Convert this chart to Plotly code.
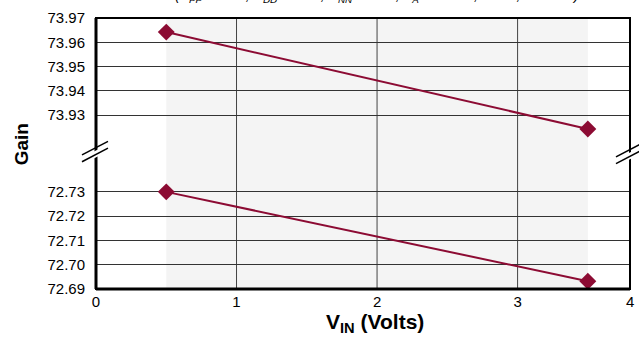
import plotly.graph_objects as go

# ---- data ----
vin = [0.5, 3.5]
gain_high = [73.9642, 73.9243]
gain_low = [72.7300, 72.6932]
shade_range = [0.5, 3.5]
x_ticks = [0, 1, 2, 3]
x_labels = ["0", "1", "2", "3", "4"]
y_top_ticks = [73.93, 73.94, 73.95, 73.96, 73.97]
y_bot_ticks = [72.69, 72.70, 72.71, 72.72, 72.73]
x_max = 3.8

W, H = 639, 339
L, R, T, B = 96, 9, 10, 50
PW, PH = W - L - R, H - T - B

def px(x):
    return (x - L) / PW

def py(y):
    return (H - B - y) / PH

BRK = 150
PX_PER_UNIT = 2500.0  # vertical scale of both segments
top_dom = [py(BRK), 1.0]
bot_dom = [0.0, py(BRK)]
top_range = [y_top_ticks[-1] - (BRK - T) / PX_PER_UNIT, y_top_ticks[-1]]
bot_range = [y_bot_ticks[0], y_bot_ticks[0] + (H - B - BRK) / PX_PER_UNIT]

LINE = "#8c0b33"
FONT = "Liberation Sans, Arial, sans-serif"

fig = go.Figure()
fig.add_trace(go.Scatter(x=vin, y=gain_high, mode="lines+markers", yaxis="y",
                         line=dict(color=LINE, width=2),
                         marker=dict(symbol="diamond", size=13, color=LINE),
                         showlegend=False, cliponaxis=False))
fig.add_trace(go.Scatter(x=vin, y=gain_low, mode="lines+markers", yaxis="y2",
                         line=dict(color=LINE, width=2),
                         marker=dict(symbol="diamond", size=13, color=LINE),
                         showlegend=False, cliponaxis=False))

shapes = []
shapes.append(dict(type="rect", xref="x", yref="paper", x0=shade_range[0], x1=shade_range[1],
                   y0=0, y1=1, fillcolor="#f4f4f4", line=dict(width=0), layer="below"))
for xv in x_ticks[1:]:
    shapes.append(dict(type="line", xref="x", yref="paper", x0=xv, x1=xv, y0=0, y1=1,
                       line=dict(color="#444", width=1), layer="below"))
shapes.append(dict(type="rect", xref="paper", yref="paper", x0=0, x1=1, y0=0, y1=1,
                   line=dict(color="black", width=2)))
shapes.append(dict(type="line", xref="paper", yref="paper", x0=0, x1=0, y0=0, y1=1,
                   line=dict(color="black", width=3)))
shapes.append(dict(type="line", xref="paper", yref="paper", x0=0, x1=1, y0=0, y1=0,
                   line=dict(color="black", width=3)))

def brk(cx, cy):
    out = []
    path = (f"M {px(cx-13)},{py(cy+6)} L {px(cx+13)},{py(cy-8)} "
            f"L {px(cx+13)},{py(cy-1)} L {px(cx-13)},{py(cy+13)} Z")
    out.append(dict(type="path", xref="paper", yref="paper", path=path,
                    fillcolor="white", line=dict(width=0)))
    for off in (0, 7):
        out.append(dict(type="line", xref="paper", yref="paper",
                        x0=px(cx-13), y0=py(cy+3+off), x1=px(cx+13), y1=py(cy-11+off),
                        line=dict(color="black", width=1.5)))
    return out

shapes += brk(95, 148)
shapes += brk(629, 150)

annotations = [
    dict(text="<b>Gain</b>", xref="paper", yref="paper", x=px(21), y=py(140),
         textangle=-90, showarrow=False, font=dict(size=19, color="black", family=FONT),
         xanchor="center", yanchor="middle"),
    dict(text="<b>V<sub>IN</sub> (Volts)</b>", xref="paper", yref="paper", x=px(375), y=py(324),
         showarrow=False, font=dict(size=21, color="black", family=FONT),
         xanchor="center", yanchor="middle"),
    dict(text="<i>(V<sub>PP</sub> = 3.6V, V<sub>DD</sub> = 3.3V, V<sub>NN</sub> = 0.0V, "
              "T<sub>A</sub> = +25°C, G = 4, Vo = 4V)</i>",
         xref="paper", yref="paper", x=px(377), y=1, yanchor="bottom", yshift=11,
         showarrow=False, font=dict(size=14, color="black", family=FONT)),
    dict(text=x_labels[-1], xref="paper", yref="paper", x=1, y=0, yanchor="top",
         xanchor="center", yshift=-2, showarrow=False,
         font=dict(size=15, color="black", family=FONT)),
]

axis_font = dict(size=15, color="black", family=FONT)
fig.update_layout(
    width=W, height=H,
    margin=dict(l=L, r=R, t=T, b=B, pad=0),
    paper_bgcolor="white", plot_bgcolor="rgba(0,0,0,0)",
    xaxis=dict(range=[0, x_max], tickvals=x_ticks, ticktext=x_labels[:len(x_ticks)],
               showgrid=False, zeroline=False, showline=False, ticks="",
               tickfont=axis_font, anchor="y2", ticklabelstandoff=2),
    yaxis=dict(domain=top_dom, range=top_range, tickvals=y_top_ticks,
               ticktext=[f"{v:.2f}" for v in y_top_ticks], showgrid=True, gridcolor="#333",
               gridwidth=1, zeroline=False, showline=False, ticks="", tickfont=axis_font,
               ticklabelstandoff=10),
    yaxis2=dict(domain=bot_dom, range=bot_range, tickvals=y_bot_ticks,
                ticktext=[f"{v:.2f}" for v in y_bot_ticks], showgrid=True, gridcolor="#333",
                gridwidth=1, zeroline=False, showline=False, ticks="", tickfont=axis_font,
                ticklabelstandoff=10),
    shapes=shapes, annotations=annotations,
)

fig.write_html("out.html")
